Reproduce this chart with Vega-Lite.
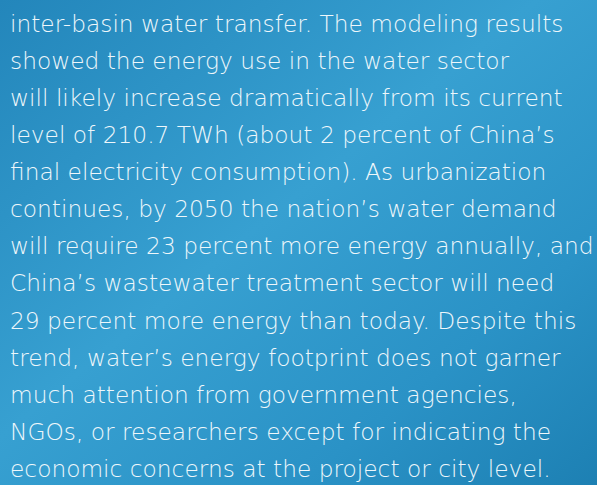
{
  "$schema": "https://vega.github.io/schema/vega-lite/v6.json",
  "width": 597,
  "height": 485,
  "padding": 0,
  "autosize": {"type": "fit", "contains": "padding"},
  "background": "#2a8fc2",
  "config": {
    "view": {
      "stroke": null,
      "fill": {
        "gradient": "linear",
        "x1": 0, "y1": 0, "x2": 1, "y2": 1,
        "stops": [
          {"offset": 0, "color": "#2386bb"},
          {"offset": 0.45, "color": "#37a0d1"},
          {"offset": 0.75, "color": "#2a92c6"},
          {"offset": 1, "color": "#1d80b3"}
        ]
      }
    }
  },
  "data": {
    "values": [
      {"line": 0, "text": "inter-basin water transfer. The modeling results"},
      {"line": 1, "text": "showed the energy use in the water sector"},
      {"line": 2, "text": "will likely increase dramatically from its current"},
      {"line": 3, "text": "level of 210.7 TWh (about 2 percent of China’s"},
      {"line": 4, "text": "final electricity consumption). As urbanization"},
      {"line": 5, "text": "continues, by 2050 the nation’s water demand"},
      {"line": 6, "text": "will require 23 percent more energy annually, and"},
      {"line": 7, "text": "China’s wastewater treatment sector will need"},
      {"line": 8, "text": "29 percent more energy than today. Despite this"},
      {"line": 9, "text": "trend, water’s energy footprint does not garner"},
      {"line": 10, "text": "much attention from government agencies,"},
      {"line": 11, "text": "NGOs, or researchers except for indicating the"},
      {"line": 12, "text": "economic concerns at the project or city level."}
    ]
  },
  "mark": {
    "type": "text",
    "align": "left",
    "baseline": "alphabetic",
    "font": "DejaVu Sans",
    "fontWeight": 200,
    "fontSize": 23.3,
    "color": "#eef7fb"
  },
  "encoding": {
    "x": {"datum": 0, "type": "quantitative", "scale": {"domain": [-10, 587]}, "axis": null},
    "y": {"field": "line", "type": "quantitative", "scale": {"domain": [-0.854, 12.218], "reverse": true, "zero": false, "nice": false}, "axis": null},
    "text": {"field": "text", "type": "nominal"}
  }
}
